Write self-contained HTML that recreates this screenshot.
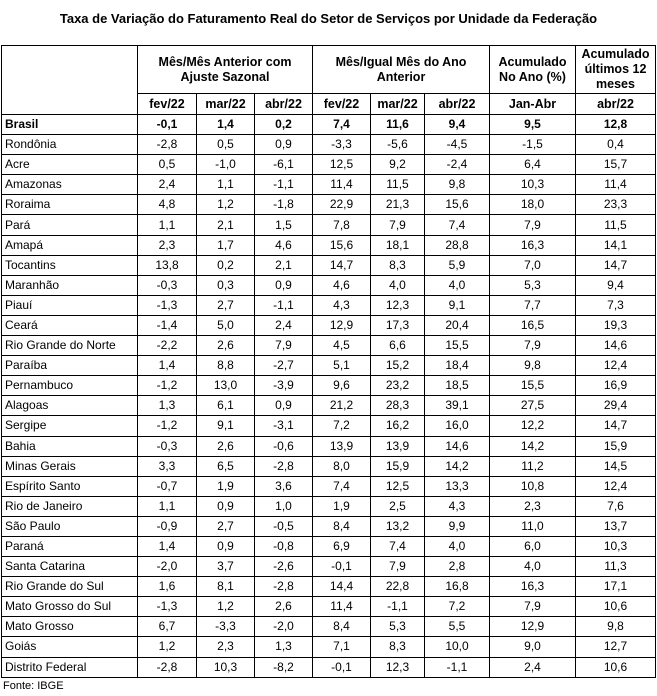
<!DOCTYPE html>
<html><head><meta charset="utf-8"><style>
body{margin:0;width:657px;height:696px;background:#fff;font-family:"Liberation Sans",Arial,sans-serif;color:#000;position:relative;overflow:hidden}
.t{position:absolute;top:11px;left:0;width:657px;text-align:center;font-weight:bold;font-size:13px}
table{position:absolute;left:1px;top:45px;border-collapse:collapse;table-layout:fixed;font-size:12px}
td{border:1px solid #000;padding:0;text-align:center;height:19.1px;line-height:19px;white-space:nowrap;overflow:hidden}
td.n{text-align:left;padding-left:3px}
.h td{font-weight:bold;font-size:12.5px}
.h1 td{height:47px;line-height:15px;white-space:normal}
.b td{font-weight:bold}
.f{position:absolute;left:3px;top:680px;font-size:11px}
</style></head><body>
<div class="t">Taxa de Variação do Faturamento Real do Setor de Serviços por Unidade da Federação</div>
<table>
<colgroup><col style="width:136px"><col style="width:59px"><col style="width:58px"><col style="width:58px"><col style="width:58px"><col style="width:54px"><col style="width:65px"><col style="width:86px"><col style="width:80px"></colgroup>
<tr class="h h1"><td rowspan="2" style="border-bottom:1px solid #000"></td><td colspan="3">Mês/Mês Anterior com<br>Ajuste Sazonal</td><td colspan="3">Mês/Igual Mês do Ano<br>Anterior</td><td>Acumulado<br>No Ano (%)</td><td>Acumulado<br>últimos 12<br>meses</td></tr>
<tr class="h"><td style="height:20px">fev/22</td><td>mar/22</td><td>abr/22</td><td>fev/22</td><td>mar/22</td><td>abr/22</td><td>Jan-Abr</td><td>abr/22</td></tr>
<tr class="b"><td class="n">Brasil</td><td>-0,1</td><td>1,4</td><td>0,2</td><td>7,4</td><td>11,6</td><td>9,4</td><td>9,5</td><td>12,8</td></tr>
<tr><td class="n">Rondônia</td><td>-2,8</td><td>0,5</td><td>0,9</td><td>-3,3</td><td>-5,6</td><td>-4,5</td><td>-1,5</td><td>0,4</td></tr>
<tr><td class="n">Acre</td><td>0,5</td><td>-1,0</td><td>-6,1</td><td>12,5</td><td>9,2</td><td>-2,4</td><td>6,4</td><td>15,7</td></tr>
<tr><td class="n">Amazonas</td><td>2,4</td><td>1,1</td><td>-1,1</td><td>11,4</td><td>11,5</td><td>9,8</td><td>10,3</td><td>11,4</td></tr>
<tr><td class="n">Roraima</td><td>4,8</td><td>1,2</td><td>-1,8</td><td>22,9</td><td>21,3</td><td>15,6</td><td>18,0</td><td>23,3</td></tr>
<tr><td class="n">Pará</td><td>1,1</td><td>2,1</td><td>1,5</td><td>7,8</td><td>7,9</td><td>7,4</td><td>7,9</td><td>11,5</td></tr>
<tr><td class="n">Amapá</td><td>2,3</td><td>1,7</td><td>4,6</td><td>15,6</td><td>18,1</td><td>28,8</td><td>16,3</td><td>14,1</td></tr>
<tr><td class="n">Tocantins</td><td>13,8</td><td>0,2</td><td>2,1</td><td>14,7</td><td>8,3</td><td>5,9</td><td>7,0</td><td>14,7</td></tr>
<tr><td class="n">Maranhão</td><td>-0,3</td><td>0,3</td><td>0,9</td><td>4,6</td><td>4,0</td><td>4,0</td><td>5,3</td><td>9,4</td></tr>
<tr><td class="n">Piauí</td><td>-1,3</td><td>2,7</td><td>-1,1</td><td>4,3</td><td>12,3</td><td>9,1</td><td>7,7</td><td>7,3</td></tr>
<tr><td class="n">Ceará</td><td>-1,4</td><td>5,0</td><td>2,4</td><td>12,9</td><td>17,3</td><td>20,4</td><td>16,5</td><td>19,3</td></tr>
<tr><td class="n">Rio Grande do Norte</td><td>-2,2</td><td>2,6</td><td>7,9</td><td>4,5</td><td>6,6</td><td>15,5</td><td>7,9</td><td>14,6</td></tr>
<tr><td class="n">Paraíba</td><td>1,4</td><td>8,8</td><td>-2,7</td><td>5,1</td><td>15,2</td><td>18,4</td><td>9,8</td><td>12,4</td></tr>
<tr><td class="n">Pernambuco</td><td>-1,2</td><td>13,0</td><td>-3,9</td><td>9,6</td><td>23,2</td><td>18,5</td><td>15,5</td><td>16,9</td></tr>
<tr><td class="n">Alagoas</td><td>1,3</td><td>6,1</td><td>0,9</td><td>21,2</td><td>28,3</td><td>39,1</td><td>27,5</td><td>29,4</td></tr>
<tr><td class="n">Sergipe</td><td>-1,2</td><td>9,1</td><td>-3,1</td><td>7,2</td><td>16,2</td><td>16,0</td><td>12,2</td><td>14,7</td></tr>
<tr><td class="n">Bahia</td><td>-0,3</td><td>2,6</td><td>-0,6</td><td>13,9</td><td>13,9</td><td>14,6</td><td>14,2</td><td>15,9</td></tr>
<tr><td class="n">Minas Gerais</td><td>3,3</td><td>6,5</td><td>-2,8</td><td>8,0</td><td>15,9</td><td>14,2</td><td>11,2</td><td>14,5</td></tr>
<tr><td class="n">Espírito Santo</td><td>-0,7</td><td>1,9</td><td>3,6</td><td>7,4</td><td>12,5</td><td>13,3</td><td>10,8</td><td>12,4</td></tr>
<tr><td class="n">Rio de Janeiro</td><td>1,1</td><td>0,9</td><td>1,0</td><td>1,9</td><td>2,5</td><td>4,3</td><td>2,3</td><td>7,6</td></tr>
<tr><td class="n">São Paulo</td><td>-0,9</td><td>2,7</td><td>-0,5</td><td>8,4</td><td>13,2</td><td>9,9</td><td>11,0</td><td>13,7</td></tr>
<tr><td class="n">Paraná</td><td>1,4</td><td>0,9</td><td>-0,8</td><td>6,9</td><td>7,4</td><td>4,0</td><td>6,0</td><td>10,3</td></tr>
<tr><td class="n">Santa Catarina</td><td>-2,0</td><td>3,7</td><td>-2,6</td><td>-0,1</td><td>7,9</td><td>2,8</td><td>4,0</td><td>11,3</td></tr>
<tr><td class="n">Rio Grande do Sul</td><td>1,6</td><td>8,1</td><td>-2,8</td><td>14,4</td><td>22,8</td><td>16,8</td><td>16,3</td><td>17,1</td></tr>
<tr><td class="n">Mato Grosso do Sul</td><td>-1,3</td><td>1,2</td><td>2,6</td><td>11,4</td><td>-1,1</td><td>7,2</td><td>7,9</td><td>10,6</td></tr>
<tr><td class="n">Mato Grosso</td><td>6,7</td><td>-3,3</td><td>-2,0</td><td>8,4</td><td>5,3</td><td>5,5</td><td>12,9</td><td>9,8</td></tr>
<tr><td class="n">Goiás</td><td>1,2</td><td>2,3</td><td>1,3</td><td>7,1</td><td>8,3</td><td>10,0</td><td>9,0</td><td>12,7</td></tr>
<tr><td class="n">Distrito Federal</td><td>-2,8</td><td>10,3</td><td>-8,2</td><td>-0,1</td><td>12,3</td><td>-1,1</td><td>2,4</td><td>10,6</td></tr>
</table>
<div class="f">Fonte: IBGE</div>
</body></html>
